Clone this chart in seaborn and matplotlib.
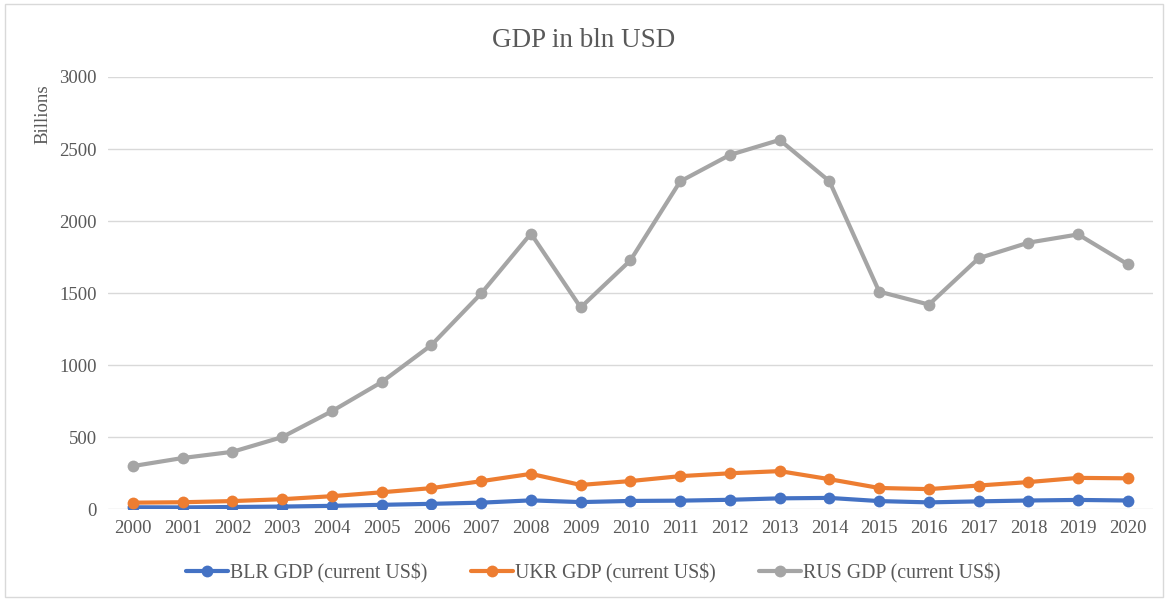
import numpy as np
import pandas as pd
import matplotlib
matplotlib.use("Agg")
import matplotlib.pyplot as plt
import seaborn as sns
from matplotlib.patches import Rectangle

years = list(range(2000, 2021))
blr = [13, 12, 15, 18, 23, 30, 37, 45, 61, 49, 57, 59, 65, 75, 78, 56, 47, 54, 60, 64, 60]
ukr = [45, 48, 56, 69, 90, 117, 146, 194, 245, 168, 195, 229, 249, 264, 208, 147, 139, 164, 188, 217, 214]
rus = [299, 355, 398, 500, 680, 882, 1139, 1497, 1913, 1400, 1727, 2275, 2459, 2563, 2276, 1510, 1420, 1742, 1850, 1907, 1699]
series_names = ["BLR GDP (current US$)", "UKR GDP (current US$)", "RUS GDP (current US$)"]
colors = ["#4472C4", "#ED7D31", "#A5A5A5"]

df = pd.concat([
    pd.DataFrame({"Year": years, "GDP": vals, "Series": name})
    for name, vals in zip(series_names, [blr, ukr, rus])
])

sns.set_theme(style="white")
plt.rcParams["font.family"] = ["Liberation Serif", "DejaVu Serif"]
text_color = "#595959"

fig = plt.figure(figsize=(11.68, 5.99), dpi=100)
ax = fig.add_axes([0.0925, 0.150, 0.8945, 0.7215])

sns.lineplot(data=df, x="Year", y="GDP", hue="Series", palette=colors,
             marker="o", markersize=8.5, markeredgewidth=0, linewidth=3,
             ax=ax, legend=True)

ax.set_xlim(1999.5, 2020.5)
ax.set_ylim(0, 3000)
ax.set_xticks(years)
ax.set_xticklabels([str(y) for y in years])
ax.set_yticks(range(0, 3001, 500))
ax.tick_params(axis="both", labelsize=13.5, colors=text_color, length=0, pad=8)
ax.yaxis.grid(True, color="#D9D9D9", linewidth=1)
ax.xaxis.grid(False)
ax.set_axisbelow(True)
for s in ax.spines.values():
    s.set_visible(False)
ax.set_xlabel("")
ax.set_ylabel("Billions", fontsize=13.5, color=text_color)
ax.yaxis.set_label_coords(-0.054, 0.915)

fig.text(0.5, 0.932, "GDP in bln USD", ha="center", va="center",
         fontsize=19.5, color=text_color)

handles, labels = ax.get_legend_handles_labels()
ax.legend_.remove()
fig.legend(handles, labels, loc="center", bbox_to_anchor=(0.508, 0.043), ncol=3,
           frameon=False, fontsize=14.3, handlelength=2.1, handletextpad=0.1,
           columnspacing=2.2, labelcolor=text_color)

fig.patches.append(Rectangle((0.004, 0.003), 0.992, 0.99, transform=fig.transFigure,
                             fill=False, edgecolor="#D9D9D9", linewidth=1))

fig.savefig("out.png", dpi=100)
